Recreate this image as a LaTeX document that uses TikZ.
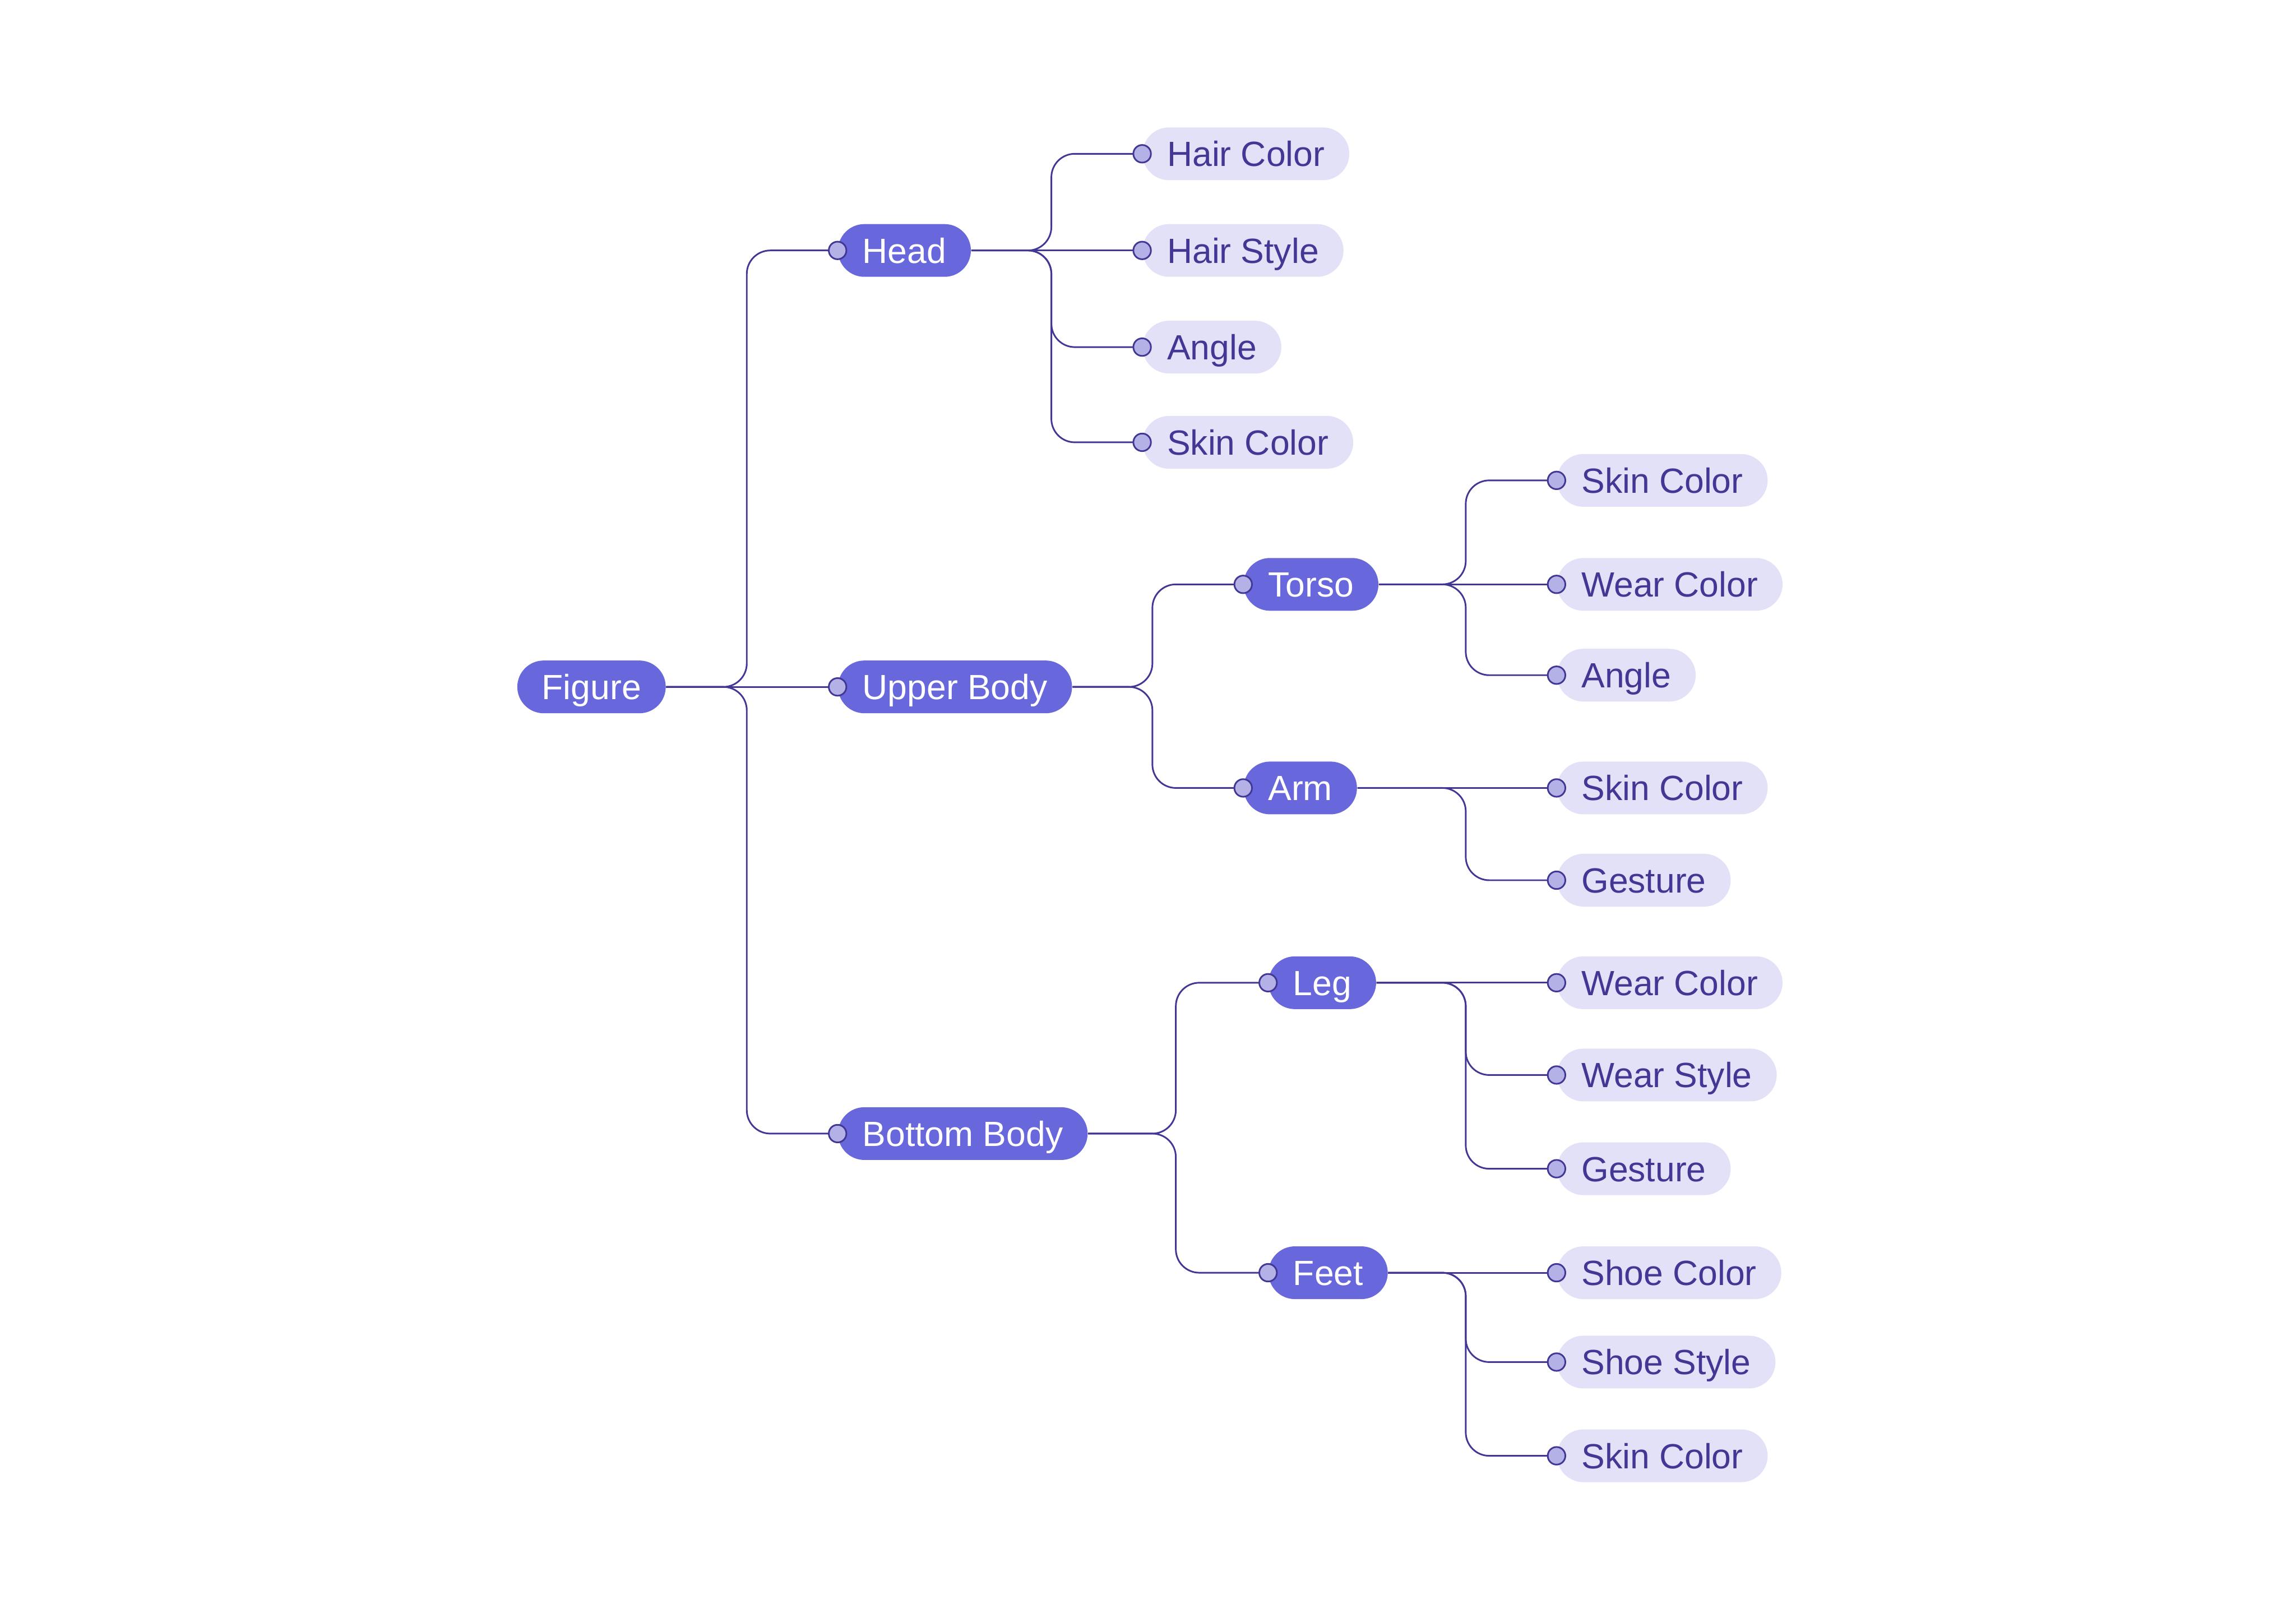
\documentclass[tikz,border=0pt]{standalone}
\usepackage{fontspec}
\setmainfont{Liberation Sans}
\usepackage{xcolor}
\definecolor{topic}{HTML}{6868DC}
\definecolor{ink}{HTML}{433795}
\definecolor{pale}{HTML}{E3E1F7}
\definecolor{knobfill}{HTML}{B3B1E6}

\begin{document}
\begin{tikzpicture}[x=0.025cm,y=-0.025cm,
  pill/.style={anchor=west,rounded corners=0.45cm,minimum height=0.9cm,inner xsep=0.42cm,inner ysep=0pt,text height=0.43cm,text depth=0pt,font=\fontsize{17}{19}\selectfont},
  main/.style={pill,fill=topic,text=white},
  leaf/.style={pill,fill=pale,text=ink},
  link/.style={draw=ink,line width=0.8pt,rounded corners=0.4cm},
  knob/.style={circle,draw=ink,fill=knobfill,line width=0.8pt,inner sep=0pt,minimum size=0.3cm}]
\useasboundingbox (0,0) rectangle (1568,1101);
% topics
\node[main] (fig) at (353,469) {Figure};
\node[main] (head) at (572,171) {Head};
\node[main] (upper) at (572,469) {Upper Body};
\node[main] (bottom) at (572,774) {Bottom Body};
\node[main] (torso) at (849,399) {Torso};
\node[main] (arm) at (849,538) {Arm};
\node[main] (leg) at (866,671) {Leg};
\node[main] (feet) at (866,869) {Feet};
% head
\node[leaf] (hcol) at (780,105) {Hair Color};
\node[leaf] (hsty) at (780,171) {Hair Style};
\node[leaf] (hang) at (780,237) {Angle};
\node[leaf] (hskin) at (780,302) {Skin Color};
% upper body
\node[leaf] (tskin) at (1063,328) {Skin Color};
\node[leaf] (twear) at (1063,399) {Wear Color};
\node[leaf] (tang) at (1063,461) {Angle};
\node[leaf] (askin) at (1063,538) {Skin Color};
\node[leaf] (agest) at (1063,601) {Gesture};
% bottom body
\node[leaf] (lwear) at (1063,671) {Wear Color};
\node[leaf] (lsty) at (1063,734) {Wear Style};
\node[leaf] (lgest) at (1063,798) {Gesture};
\node[leaf] (fcol) at (1063,869) {Shoe Color};
\node[leaf] (fsty) at (1063,930) {Shoe Style};
\node[leaf] (fskin) at (1063,994) {Skin Color};
% forks
\coordinate (figv) at (510,0);
\coordinate (headv) at (718,0);
\coordinate (upperv) at (787,0);
\coordinate (bottomv) at (803,0);
\coordinate (partv) at (1001,0);
\draw[link] (fig.east) -- (fig.east -| figv) |- (head.west);
\draw[link] (fig.east) -- (upper.west);
\draw[link] (fig.east) -- (fig.east -| figv) |- (bottom.west);
\draw[link] (head.east) -- (head.east -| headv) |- (hcol.west);
\draw[link] (head.east) -- (hsty.west);
\draw[link] (head.east) -- (head.east -| headv) |- (hang.west);
\draw[link] (head.east) -- (head.east -| headv) |- (hskin.west);
\draw[link] (upper.east) -- (upper.east -| upperv) |- (torso.west);
\draw[link] (upper.east) -- (upper.east -| upperv) |- (arm.west);
\draw[link] (torso.east) -- (torso.east -| partv) |- (tskin.west);
\draw[link] (torso.east) -- (twear.west);
\draw[link] (torso.east) -- (torso.east -| partv) |- (tang.west);
\draw[link] (arm.east) -- (askin.west);
\draw[link] (arm.east) -- (arm.east -| partv) |- (agest.west);
\draw[link] (bottom.east) -- (bottom.east -| bottomv) |- (leg.west);
\draw[link] (bottom.east) -- (bottom.east -| bottomv) |- (feet.west);
\draw[link] (leg.east) -- (lwear.west);
\draw[link] (leg.east) -- (leg.east -| partv) |- (lsty.west);
\draw[link] (leg.east) -- (leg.east -| partv) |- (lgest.west);
\draw[link] (feet.east) -- (fcol.west);
\draw[link] (feet.east) -- (feet.east -| partv) |- (fsty.west);
\draw[link] (feet.east) -- (feet.east -| partv) |- (fskin.west);
\foreach \n in {head,upper,bottom,torso,arm,leg,feet,hcol,hsty,hang,hskin,tskin,twear,tang,askin,agest,lwear,lsty,lgest,fcol,fsty,fskin}
  \node[knob] at (\n.west) {};
\end{tikzpicture}
\end{document}
